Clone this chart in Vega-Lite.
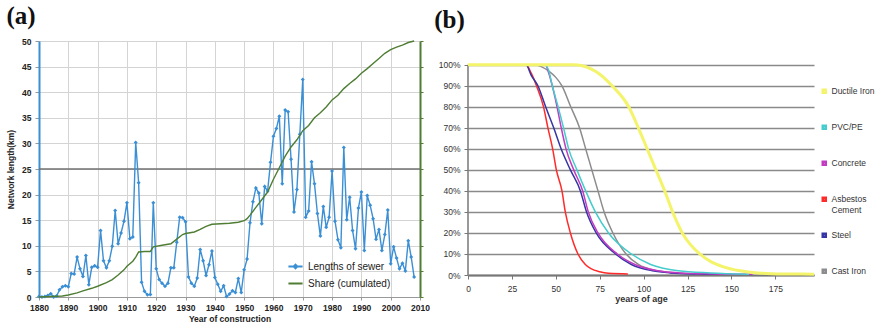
{
  "$schema": "https://vega.github.io/schema/vega-lite/v6.json",
  "padding": {"left": 6, "top": 4, "right": 0, "bottom": 0},
  "background": "white",
  "config": {"view": {"stroke": null}, "font": "Liberation Sans"},
  "spacing": 4,
  "resolve": {"scale": {"color": "independent", "x": "independent", "y": "independent"}, "legend": {"color": "independent"}},
  "datasets": {
    "sewer": [
      {"year": 1880, "km": 0.1, "series": "Lengths of sewer"}, {"year": 1881, "km": 0, "series": "Lengths of sewer"},
      {"year": 1882, "km": 0.1, "series": "Lengths of sewer"}, {"year": 1883, "km": 0.3, "series": "Lengths of sewer"},
      {"year": 1884, "km": 0.65, "series": "Lengths of sewer"}, {"year": 1885, "km": 0, "series": "Lengths of sewer"},
      {"year": 1886, "km": 0.2, "series": "Lengths of sewer"}, {"year": 1887, "km": 1.4, "series": "Lengths of sewer"},
      {"year": 1888, "km": 2.0, "series": "Lengths of sewer"}, {"year": 1889, "km": 2.2, "series": "Lengths of sewer"},
      {"year": 1890, "km": 2.0, "series": "Lengths of sewer"}, {"year": 1891, "km": 4.6, "series": "Lengths of sewer"},
      {"year": 1892, "km": 4.5, "series": "Lengths of sewer"}, {"year": 1893, "km": 7.8, "series": "Lengths of sewer"},
      {"year": 1894, "km": 5.5, "series": "Lengths of sewer"}, {"year": 1895, "km": 4.0, "series": "Lengths of sewer"},
      {"year": 1896, "km": 8.1, "series": "Lengths of sewer"}, {"year": 1897, "km": 2.4, "series": "Lengths of sewer"},
      {"year": 1898, "km": 5.8, "series": "Lengths of sewer"}, {"year": 1899, "km": 6.1, "series": "Lengths of sewer"},
      {"year": 1900, "km": 5.8, "series": "Lengths of sewer"}, {"year": 1901, "km": 13.0, "series": "Lengths of sewer"},
      {"year": 1902, "km": 7.1, "series": "Lengths of sewer"}, {"year": 1903, "km": 5.7, "series": "Lengths of sewer"},
      {"year": 1904, "km": 7.1, "series": "Lengths of sewer"}, {"year": 1905, "km": 9.9, "series": "Lengths of sewer"},
      {"year": 1906, "km": 16.9, "series": "Lengths of sewer"}, {"year": 1907, "km": 10.4, "series": "Lengths of sewer"},
      {"year": 1908, "km": 12.5, "series": "Lengths of sewer"}, {"year": 1909, "km": 14.8, "series": "Lengths of sewer"},
      {"year": 1910, "km": 18.4, "series": "Lengths of sewer"}, {"year": 1911, "km": 11.4, "series": "Lengths of sewer"},
      {"year": 1912, "km": 11.7, "series": "Lengths of sewer"}, {"year": 1913, "km": 30.2, "series": "Lengths of sewer"},
      {"year": 1914, "km": 22.3, "series": "Lengths of sewer"}, {"year": 1915, "km": 2.9, "series": "Lengths of sewer"},
      {"year": 1916, "km": 1.1, "series": "Lengths of sewer"}, {"year": 1917, "km": 0.45, "series": "Lengths of sewer"},
      {"year": 1918, "km": 0.5, "series": "Lengths of sewer"}, {"year": 1919, "km": 18.4, "series": "Lengths of sewer"},
      {"year": 1920, "km": 5.5, "series": "Lengths of sewer"}, {"year": 1921, "km": 3.4, "series": "Lengths of sewer"},
      {"year": 1922, "km": 2.7, "series": "Lengths of sewer"}, {"year": 1923, "km": 2.1, "series": "Lengths of sewer"},
      {"year": 1924, "km": 2.7, "series": "Lengths of sewer"}, {"year": 1925, "km": 5.7, "series": "Lengths of sewer"},
      {"year": 1926, "km": 5.7, "series": "Lengths of sewer"}, {"year": 1927, "km": 10.7, "series": "Lengths of sewer"},
      {"year": 1928, "km": 15.6, "series": "Lengths of sewer"}, {"year": 1929, "km": 15.5, "series": "Lengths of sewer"},
      {"year": 1930, "km": 14.7, "series": "Lengths of sewer"}, {"year": 1931, "km": 3.9, "series": "Lengths of sewer"},
      {"year": 1932, "km": 2.7, "series": "Lengths of sewer"}, {"year": 1933, "km": 2.1, "series": "Lengths of sewer"},
      {"year": 1934, "km": 3.7, "series": "Lengths of sewer"}, {"year": 1935, "km": 9.3, "series": "Lengths of sewer"},
      {"year": 1936, "km": 7.1, "series": "Lengths of sewer"}, {"year": 1937, "km": 4.2, "series": "Lengths of sewer"},
      {"year": 1938, "km": 6.3, "series": "Lengths of sewer"}, {"year": 1939, "km": 9.0, "series": "Lengths of sewer"},
      {"year": 1940, "km": 3.8, "series": "Lengths of sewer"}, {"year": 1941, "km": 2.5, "series": "Lengths of sewer"},
      {"year": 1942, "km": 1.1, "series": "Lengths of sewer"}, {"year": 1943, "km": 2.2, "series": "Lengths of sewer"},
      {"year": 1944, "km": 0.1, "series": "Lengths of sewer"}, {"year": 1945, "km": 0.6, "series": "Lengths of sewer"},
      {"year": 1946, "km": 1.2, "series": "Lengths of sewer"}, {"year": 1947, "km": 0.9, "series": "Lengths of sewer"},
      {"year": 1948, "km": 3.6, "series": "Lengths of sewer"}, {"year": 1949, "km": 0.9, "series": "Lengths of sewer"},
      {"year": 1950, "km": 5.3, "series": "Lengths of sewer"}, {"year": 1951, "km": 7.4, "series": "Lengths of sewer"},
      {"year": 1952, "km": 14.5, "series": "Lengths of sewer"}, {"year": 1953, "km": 18.6, "series": "Lengths of sewer"},
      {"year": 1954, "km": 21.3, "series": "Lengths of sewer"}, {"year": 1955, "km": 20.3, "series": "Lengths of sewer"},
      {"year": 1956, "km": 14.3, "series": "Lengths of sewer"}, {"year": 1957, "km": 21.6, "series": "Lengths of sewer"},
      {"year": 1958, "km": 20.7, "series": "Lengths of sewer"}, {"year": 1959, "km": 26.3, "series": "Lengths of sewer"},
      {"year": 1960, "km": 31.4, "series": "Lengths of sewer"}, {"year": 1961, "km": 32.9, "series": "Lengths of sewer"},
      {"year": 1962, "km": 35.3, "series": "Lengths of sewer"}, {"year": 1963, "km": 22.1, "series": "Lengths of sewer"},
      {"year": 1964, "km": 36.5, "series": "Lengths of sewer"}, {"year": 1965, "km": 36.2, "series": "Lengths of sewer"},
      {"year": 1966, "km": 26.9, "series": "Lengths of sewer"}, {"year": 1967, "km": 16.6, "series": "Lengths of sewer"},
      {"year": 1968, "km": 21.0, "series": "Lengths of sewer"}, {"year": 1969, "km": 31.8, "series": "Lengths of sewer"},
      {"year": 1970, "km": 42.5, "series": "Lengths of sewer"}, {"year": 1971, "km": 15.6, "series": "Lengths of sewer"},
      {"year": 1972, "km": 16.8, "series": "Lengths of sewer"}, {"year": 1973, "km": 26.4, "series": "Lengths of sewer"},
      {"year": 1974, "km": 22.1, "series": "Lengths of sewer"}, {"year": 1975, "km": 16.3, "series": "Lengths of sewer"},
      {"year": 1976, "km": 11.9, "series": "Lengths of sewer"}, {"year": 1977, "km": 17.7, "series": "Lengths of sewer"},
      {"year": 1978, "km": 13.6, "series": "Lengths of sewer"}, {"year": 1979, "km": 15.6, "series": "Lengths of sewer"},
      {"year": 1980, "km": 24.6, "series": "Lengths of sewer"}, {"year": 1981, "km": 14.8, "series": "Lengths of sewer"},
      {"year": 1982, "km": 11.2, "series": "Lengths of sewer"}, {"year": 1983, "km": 9.6, "series": "Lengths of sewer"},
      {"year": 1984, "km": 29.2, "series": "Lengths of sewer"}, {"year": 1985, "km": 15.1, "series": "Lengths of sewer"},
      {"year": 1986, "km": 19.5, "series": "Lengths of sewer"}, {"year": 1987, "km": 13.0, "series": "Lengths of sewer"},
      {"year": 1988, "km": 9.4, "series": "Lengths of sewer"}, {"year": 1989, "km": 17.4, "series": "Lengths of sewer"},
      {"year": 1990, "km": 20.5, "series": "Lengths of sewer"}, {"year": 1991, "km": 9.1, "series": "Lengths of sewer"},
      {"year": 1992, "km": 19.8, "series": "Lengths of sewer"}, {"year": 1993, "km": 17.9, "series": "Lengths of sewer"},
      {"year": 1994, "km": 15.3, "series": "Lengths of sewer"}, {"year": 1995, "km": 11.3, "series": "Lengths of sewer"},
      {"year": 1996, "km": 13.2, "series": "Lengths of sewer"}, {"year": 1997, "km": 9.1, "series": "Lengths of sewer"},
      {"year": 1998, "km": 12.2, "series": "Lengths of sewer"}, {"year": 1999, "km": 17.0, "series": "Lengths of sewer"},
      {"year": 2000, "km": 6.5, "series": "Lengths of sewer"}, {"year": 2001, "km": 9.8, "series": "Lengths of sewer"},
      {"year": 2002, "km": 7.6, "series": "Lengths of sewer"}, {"year": 2003, "km": 5.5, "series": "Lengths of sewer"},
      {"year": 2004, "km": 6.6, "series": "Lengths of sewer"}, {"year": 2005, "km": 5.1, "series": "Lengths of sewer"},
      {"year": 2006, "km": 11.0, "series": "Lengths of sewer"}, {"year": 2007, "km": 7.8, "series": "Lengths of sewer"},
      {"year": 2008, "km": 3.9, "series": "Lengths of sewer"}
    ],
    "share": [
      {"year": 1880, "pct": 0, "series": "Share (cumulated)"}, {"year": 1884, "pct": 0.2, "series": "Share (cumulated)"},
      {"year": 1888, "pct": 0.4, "series": "Share (cumulated)"}, {"year": 1890, "pct": 0.8, "series": "Share (cumulated)"},
      {"year": 1893, "pct": 1.6, "series": "Share (cumulated)"}, {"year": 1895, "pct": 2.4, "series": "Share (cumulated)"},
      {"year": 1898, "pct": 3.4, "series": "Share (cumulated)"}, {"year": 1900, "pct": 4.2, "series": "Share (cumulated)"},
      {"year": 1903, "pct": 5.6, "series": "Share (cumulated)"}, {"year": 1905, "pct": 6.8, "series": "Share (cumulated)"},
      {"year": 1907, "pct": 8.6, "series": "Share (cumulated)"}, {"year": 1909, "pct": 10.6, "series": "Share (cumulated)"},
      {"year": 1910, "pct": 12.0, "series": "Share (cumulated)"}, {"year": 1912, "pct": 14.0, "series": "Share (cumulated)"},
      {"year": 1913, "pct": 15.6, "series": "Share (cumulated)"}, {"year": 1914, "pct": 17.6, "series": "Share (cumulated)"},
      {"year": 1916, "pct": 17.8, "series": "Share (cumulated)"}, {"year": 1918, "pct": 17.8, "series": "Share (cumulated)"},
      {"year": 1919, "pct": 19.6, "series": "Share (cumulated)"}, {"year": 1922, "pct": 20.2, "series": "Share (cumulated)"},
      {"year": 1925, "pct": 20.8, "series": "Share (cumulated)"}, {"year": 1927, "pct": 22.6, "series": "Share (cumulated)"},
      {"year": 1929, "pct": 24.4, "series": "Share (cumulated)"}, {"year": 1930, "pct": 24.8, "series": "Share (cumulated)"},
      {"year": 1933, "pct": 25.4, "series": "Share (cumulated)"}, {"year": 1935, "pct": 26.4, "series": "Share (cumulated)"},
      {"year": 1937, "pct": 27.6, "series": "Share (cumulated)"}, {"year": 1939, "pct": 28.4, "series": "Share (cumulated)"},
      {"year": 1942, "pct": 28.6, "series": "Share (cumulated)"}, {"year": 1945, "pct": 28.8, "series": "Share (cumulated)"},
      {"year": 1948, "pct": 29.2, "series": "Share (cumulated)"}, {"year": 1950, "pct": 29.8, "series": "Share (cumulated)"},
      {"year": 1951, "pct": 30.6, "series": "Share (cumulated)"}, {"year": 1952, "pct": 32.0, "series": "Share (cumulated)"},
      {"year": 1954, "pct": 35.0, "series": "Share (cumulated)"}, {"year": 1956, "pct": 38.0, "series": "Share (cumulated)"},
      {"year": 1958, "pct": 41.0, "series": "Share (cumulated)"}, {"year": 1960, "pct": 46.0, "series": "Share (cumulated)"},
      {"year": 1962, "pct": 50.5, "series": "Share (cumulated)"}, {"year": 1964, "pct": 55.0, "series": "Share (cumulated)"},
      {"year": 1966, "pct": 58.6, "series": "Share (cumulated)"}, {"year": 1968, "pct": 61.4, "series": "Share (cumulated)"},
      {"year": 1970, "pct": 65.0, "series": "Share (cumulated)"}, {"year": 1972, "pct": 67.0, "series": "Share (cumulated)"},
      {"year": 1974, "pct": 70.0, "series": "Share (cumulated)"}, {"year": 1976, "pct": 72.0, "series": "Share (cumulated)"},
      {"year": 1978, "pct": 74.2, "series": "Share (cumulated)"}, {"year": 1980, "pct": 77.0, "series": "Share (cumulated)"},
      {"year": 1982, "pct": 78.8, "series": "Share (cumulated)"}, {"year": 1984, "pct": 81.4, "series": "Share (cumulated)"},
      {"year": 1986, "pct": 83.4, "series": "Share (cumulated)"}, {"year": 1988, "pct": 85.2, "series": "Share (cumulated)"},
      {"year": 1990, "pct": 87.4, "series": "Share (cumulated)"}, {"year": 1992, "pct": 89.2, "series": "Share (cumulated)"},
      {"year": 1994, "pct": 91.2, "series": "Share (cumulated)"}, {"year": 1996, "pct": 93.2, "series": "Share (cumulated)"},
      {"year": 1998, "pct": 95.2, "series": "Share (cumulated)"}, {"year": 2000, "pct": 96.6, "series": "Share (cumulated)"},
      {"year": 2002, "pct": 97.6, "series": "Share (cumulated)"}, {"year": 2004, "pct": 98.4, "series": "Share (cumulated)"},
      {"year": 2006, "pct": 99.4, "series": "Share (cumulated)"}, {"year": 2008, "pct": 100, "series": "Share (cumulated)"}
    ],
    "survival": [
      {"material": "Asbestos Cement", "age": 0, "pct": 100}, {"material": "Asbestos Cement", "age": 33, "pct": 100},
      {"material": "Asbestos Cement", "age": 36, "pct": 96}, {"material": "Asbestos Cement", "age": 39, "pct": 90},
      {"material": "Asbestos Cement", "age": 43, "pct": 80}, {"material": "Asbestos Cement", "age": 45.5, "pct": 70},
      {"material": "Asbestos Cement", "age": 48.2, "pct": 60}, {"material": "Asbestos Cement", "age": 50.3, "pct": 50},
      {"material": "Asbestos Cement", "age": 53.5, "pct": 40}, {"material": "Asbestos Cement", "age": 55.4, "pct": 30},
      {"material": "Asbestos Cement", "age": 58.3, "pct": 20}, {"material": "Asbestos Cement", "age": 62.6, "pct": 10},
      {"material": "Asbestos Cement", "age": 66.8, "pct": 5}, {"material": "Asbestos Cement", "age": 70, "pct": 3},
      {"material": "Asbestos Cement", "age": 75, "pct": 1.5}, {"material": "Asbestos Cement", "age": 80, "pct": 0.8},
      {"material": "Asbestos Cement", "age": 91, "pct": 0.5},
      {"material": "Cast Iron", "age": 0, "pct": 100}, {"material": "Cast Iron", "age": 38, "pct": 100},
      {"material": "Cast Iron", "age": 42, "pct": 99}, {"material": "Cast Iron", "age": 46, "pct": 97},
      {"material": "Cast Iron", "age": 50, "pct": 94}, {"material": "Cast Iron", "age": 53.5, "pct": 90},
      {"material": "Cast Iron", "age": 58.5, "pct": 80}, {"material": "Cast Iron", "age": 63.5, "pct": 70},
      {"material": "Cast Iron", "age": 67, "pct": 60}, {"material": "Cast Iron", "age": 70.5, "pct": 50},
      {"material": "Cast Iron", "age": 74, "pct": 40}, {"material": "Cast Iron", "age": 77.5, "pct": 30},
      {"material": "Cast Iron", "age": 82.5, "pct": 20}, {"material": "Cast Iron", "age": 90, "pct": 10},
      {"material": "Cast Iron", "age": 97, "pct": 5}, {"material": "Cast Iron", "age": 108, "pct": 2},
      {"material": "Cast Iron", "age": 118, "pct": 1}, {"material": "Cast Iron", "age": 130, "pct": 0.5},
      {"material": "Steel", "age": 0, "pct": 100}, {"material": "Steel", "age": 33, "pct": 100},
      {"material": "Steel", "age": 36, "pct": 95}, {"material": "Steel", "age": 39.8, "pct": 90},
      {"material": "Steel", "age": 44.2, "pct": 80}, {"material": "Steel", "age": 48.8, "pct": 70},
      {"material": "Steel", "age": 53, "pct": 60}, {"material": "Steel", "age": 58.3, "pct": 50},
      {"material": "Steel", "age": 64, "pct": 40}, {"material": "Steel", "age": 67.5, "pct": 30},
      {"material": "Steel", "age": 73, "pct": 20}, {"material": "Steel", "age": 84, "pct": 10},
      {"material": "Steel", "age": 93, "pct": 5}, {"material": "Steel", "age": 105, "pct": 2},
      {"material": "Steel", "age": 115, "pct": 1}, {"material": "Steel", "age": 130, "pct": 0.5},
      {"material": "Steel", "age": 150, "pct": 0.3},
      {"material": "Concrete", "age": 0, "pct": 100}, {"material": "Concrete", "age": 44, "pct": 100},
      {"material": "Concrete", "age": 46, "pct": 96}, {"material": "Concrete", "age": 48, "pct": 90},
      {"material": "Concrete", "age": 50.7, "pct": 80}, {"material": "Concrete", "age": 53.1, "pct": 70},
      {"material": "Concrete", "age": 55.8, "pct": 60}, {"material": "Concrete", "age": 60.2, "pct": 50},
      {"material": "Concrete", "age": 65.3, "pct": 40}, {"material": "Concrete", "age": 68.5, "pct": 30},
      {"material": "Concrete", "age": 74, "pct": 20}, {"material": "Concrete", "age": 85, "pct": 10},
      {"material": "Concrete", "age": 95, "pct": 5}, {"material": "Concrete", "age": 108, "pct": 2},
      {"material": "Concrete", "age": 120, "pct": 1}, {"material": "Concrete", "age": 140, "pct": 0.5},
      {"material": "Concrete", "age": 162, "pct": 0.3},
      {"material": "PVC/PE", "age": 0, "pct": 100}, {"material": "PVC/PE", "age": 44, "pct": 100},
      {"material": "PVC/PE", "age": 46, "pct": 97}, {"material": "PVC/PE", "age": 48, "pct": 90},
      {"material": "PVC/PE", "age": 51.3, "pct": 80}, {"material": "PVC/PE", "age": 54.4, "pct": 70},
      {"material": "PVC/PE", "age": 57.3, "pct": 60}, {"material": "PVC/PE", "age": 62, "pct": 50},
      {"material": "PVC/PE", "age": 67, "pct": 40}, {"material": "PVC/PE", "age": 72.5, "pct": 30},
      {"material": "PVC/PE", "age": 80, "pct": 20}, {"material": "PVC/PE", "age": 93, "pct": 10},
      {"material": "PVC/PE", "age": 104, "pct": 5}, {"material": "PVC/PE", "age": 120, "pct": 2},
      {"material": "PVC/PE", "age": 138, "pct": 1}, {"material": "PVC/PE", "age": 160, "pct": 0.4},
      {"material": "Ductile Iron", "age": 0, "pct": 100}, {"material": "Ductile Iron", "age": 60, "pct": 100},
      {"material": "Ductile Iron", "age": 65, "pct": 99.5}, {"material": "Ductile Iron", "age": 70, "pct": 98},
      {"material": "Ductile Iron", "age": 75, "pct": 95.5}, {"material": "Ductile Iron", "age": 82, "pct": 90},
      {"material": "Ductile Iron", "age": 91.5, "pct": 80}, {"material": "Ductile Iron", "age": 97, "pct": 70},
      {"material": "Ductile Iron", "age": 102, "pct": 60}, {"material": "Ductile Iron", "age": 107, "pct": 50},
      {"material": "Ductile Iron", "age": 112, "pct": 40}, {"material": "Ductile Iron", "age": 116.5, "pct": 30},
      {"material": "Ductile Iron", "age": 122, "pct": 20}, {"material": "Ductile Iron", "age": 132, "pct": 10},
      {"material": "Ductile Iron", "age": 138, "pct": 6.5}, {"material": "Ductile Iron", "age": 145, "pct": 4},
      {"material": "Ductile Iron", "age": 155, "pct": 2}, {"material": "Ductile Iron", "age": 165, "pct": 1},
      {"material": "Ductile Iron", "age": 180, "pct": 0.5}, {"material": "Ductile Iron", "age": 197, "pct": 0.4}
    ]
  },
  "hconcat": [
    {
      "width": 381,
      "height": 256,
      "title": {"text": "(a)", "font": "Liberation Serif", "fontSize": 25, "fontWeight": "bold", "color": "#111", "anchor": "start", "frame": "bounds", "offset": 8},
      "layer": [
        {
          "layer": [
            {
              "data": {"values": [{"km": 25}]},
              "mark": {"type": "rule", "color": "#707070", "strokeWidth": 1.5},
              "encoding": {"y": {"field": "km", "type": "quantitative", "scale": {"domain": [0, 50], "nice": false},
                "axis": {"title": "Network length(km)", "values": [0, 5, 10, 15, 20, 25, 30, 35, 40, 45, 50], "labelOverlap": false, "grid": true, "gridColor": "#d4d4d4", "domainColor": "#3b8fd4", "domainWidth": 2, "tickColor": "#999", "tickSize": 4, "labelPadding": 4, "labelFontSize": 8.5, "labelFontWeight": "bold", "labelColor": "#222", "titleFontSize": 8.5, "titleFontWeight": "bold", "titleColor": "#222", "titlePadding": 6}}}
            },
            {
              "data": {"name": "sewer"},
              "mark": {"type": "line", "strokeWidth": 1.4, "point": {"shape": "diamond", "size": 16, "filled": true}},
              "encoding": {
                "x": {"field": "year", "type": "quantitative", "scale": {"domain": [1880, 2010], "nice": false, "zero": false},
                  "axis": {"title": "Year of construction", "values": [1880, 1890, 1900, 1910, 1920, 1930, 1940, 1950, 1960, 1970, 1980, 1990, 2000, 2010], "labelOverlap": false, "format": "d", "labelFlush": false, "grid": true, "gridColor": "#d4d4d4", "domainColor": "#999", "tickColor": "#999", "tickSize": 3, "labelFontSize": 8.5, "labelFontWeight": "bold", "labelColor": "#222", "labelPadding": 3, "titleFontSize": 8.5, "titleFontWeight": "bold", "titleColor": "#222", "titlePadding": 3}},
                "y": {"field": "km", "type": "quantitative", "scale": {"domain": [0, 50], "nice": false},
                  "axis": {"title": "Network length(km)", "values": [0, 5, 10, 15, 20, 25, 30, 35, 40, 45, 50], "labelOverlap": false, "grid": true, "gridColor": "#d4d4d4", "domainColor": "#3b8fd4", "domainWidth": 2, "tickColor": "#999", "tickSize": 4, "labelPadding": 4, "labelFontSize": 8.5, "labelFontWeight": "bold", "labelColor": "#222", "titleFontSize": 8.5, "titleFontWeight": "bold", "titleColor": "#222", "titlePadding": 6}},
                "color": {"field": "series", "type": "nominal", "scale": {"domain": ["Lengths of sewer", "Share (cumulated)"], "range": ["#3b8fd4", "#4e7d33"]},
                  "legend": {"orient": "none", "legendX": 248, "legendY": 217, "title": null, "labelFontSize": 10, "labelColor": "#222", "symbolSize": 200, "symbolStrokeWidth": 2, "rowPadding": 2, "symbolType": "stroke",
                    "encode": {"symbols": {"update": {"shape": {"signal": "datum.value === 'Lengths of sewer' ? 'M-1,0L1,0M0,-0.25L0.25,0L0,0.25L-0.25,0Z' : 'M-1,0L1,0'"}}}}}}
              }
            }
          ]
        },
        {
          "data": {"name": "share"},
          "mark": {"type": "line", "strokeWidth": 1.4},
          "encoding": {
            "x": {"field": "year", "type": "quantitative", "scale": {"domain": [1880, 2010], "nice": false, "zero": false},
              "axis": {"title": "Year of construction", "values": [1880, 1890, 1900, 1910, 1920, 1930, 1940, 1950, 1960, 1970, 1980, 1990, 2000, 2010], "labelOverlap": false, "format": "d", "labelFlush": false, "grid": true, "gridColor": "#d4d4d4", "domainColor": "#999", "tickColor": "#999", "tickSize": 3, "labelFontSize": 8.5, "labelFontWeight": "bold", "labelColor": "#222", "labelPadding": 3, "titleFontSize": 8.5, "titleFontWeight": "bold", "titleColor": "#222", "titlePadding": 3}},
            "y": {"field": "pct", "type": "quantitative", "scale": {"domain": [0, 100], "nice": false},
              "axis": {"orient": "right", "title": null, "labels": false, "values": [0, 10, 20, 30, 40, 50, 60, 70, 80, 90, 100], "grid": false, "domainColor": "#4e7d33", "domainWidth": 2, "tickColor": "#4e7d33", "tickSize": 3}},
            "color": {"field": "series", "type": "nominal"}
          }
        }
      ],
      "resolve": {"scale": {"y": "independent"}}
    },
    {
      "width": 346,
      "height": 234,
      "title": {"text": "(b)", "font": "Liberation Serif", "fontSize": 25, "fontWeight": "bold", "color": "#111", "anchor": "start", "frame": "bounds", "offset": 8, "dx": -4},
      "layer": [
        {
          "data": {"values": [{"age": 0, "lo": 0, "hi": 100}]},
          "mark": {"type": "rule", "color": "#777", "strokeWidth": 1.5},
          "encoding": {
            "x": {"field": "age", "type": "quantitative", "scale": {"domain": [0, 197], "nice": false},
              "axis": {"title": "years of age", "values": [0, 25, 50, 75, 100, 125, 150, 175], "labelOverlap": false, "labelFlush": false, "grid": false, "domainColor": "#777", "domainWidth": 2, "tickColor": "#777", "tickSize": 4, "labelFontSize": 8.5, "labelColor": "#333", "labelPadding": 5, "titleFontSize": 9, "titleFontWeight": "bold", "titleColor": "#333", "titlePadding": 2}},
            "y": {"field": "lo", "type": "quantitative", "scale": {"domain": [0, 111.3], "nice": false},
              "axis": {"title": null, "values": [0, 10, 20, 30, 40, 50, 60, 70, 80, 90, 100], "labelOverlap": false, "labelExpr": "datum.value + '%'", "grid": true, "gridColor": "#8a8a8a", "gridWidth": 1.5, "domain": false, "tickColor": "#777", "tickSize": 4, "labelPadding": 4, "labelFontSize": 8.5, "labelColor": "#333"}},
            "y2": {"field": "hi"}
          }
        },
        {
          "data": {"name": "survival"},
          "mark": {"type": "line", "interpolate": "monotone"},
          "encoding": {
            "x": {"field": "age", "type": "quantitative", "scale": {"domain": [0, 197], "nice": false},
              "axis": {"title": "years of age", "values": [0, 25, 50, 75, 100, 125, 150, 175], "labelOverlap": false, "labelFlush": false, "grid": false, "domainColor": "#777", "domainWidth": 2, "tickColor": "#777", "tickSize": 4, "labelFontSize": 8.5, "labelColor": "#333", "labelPadding": 5, "titleFontSize": 9, "titleFontWeight": "bold", "titleColor": "#333", "titlePadding": 2}},
            "y": {"field": "pct", "type": "quantitative", "scale": {"domain": [0, 111.3], "nice": false},
              "axis": {"title": null, "values": [0, 10, 20, 30, 40, 50, 60, 70, 80, 90, 100], "labelOverlap": false, "labelExpr": "datum.value + '%'", "grid": true, "gridColor": "#8a8a8a", "gridWidth": 1.5, "domain": false, "tickColor": "#777", "tickSize": 4, "labelPadding": 4, "labelFontSize": 8.5, "labelColor": "#333"}},
            "color": {"field": "material", "type": "nominal",
              "scale": {"domain": ["Ductile Iron", "PVC/PE", "Concrete", "Asbestos Cement", "Steel", "Cast Iron"], "range": ["#f4f46a", "#45cccc", "#c23bc2", "#ff2a2a", "#3535a5", "#8c8c8c"]},
              "legend": {"orient": "none", "legendX": 352, "legendY": 46, "title": null, "symbolType": "square", "symbolSize": 9, "symbolStrokeWidth": 2.5, "labelFontSize": 8.5, "labelColor": "#333", "labelOffset": 3, "rowPadding": 13, "gridAlign": "all", "labelExpr": "datum.label == 'Asbestos Cement' ? ['Asbestos', 'Cement'] : datum.label"}},
            "strokeWidth": {"condition": {"test": "datum.material === 'Ductile Iron'", "value": 3}, "value": 1.5}
          }
        }
      ]
    }
  ]
}
